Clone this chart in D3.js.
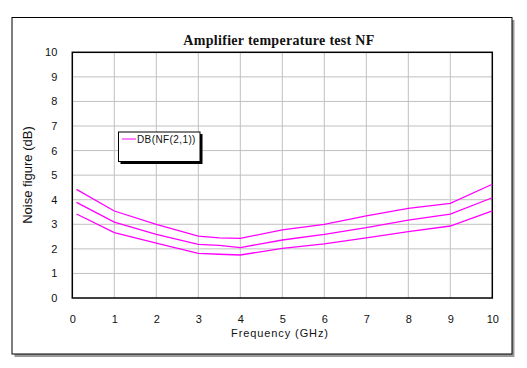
<!DOCTYPE html>
<html><head><meta charset="utf-8">
<script src="https://cdn.jsdelivr.net/npm/d3@7"></script>
<style>body{margin:0;background:#fff}svg{display:block}</style>
</head><body>
<script>
const freq = [0.1, 1, 2, 3, 3.5, 4, 5, 6, 7, 8, 9, 10];
const nfHigh = [4.42, 3.54, 3.0, 2.52, 2.45, 2.43, 2.77, 3.0, 3.34, 3.65, 3.85, 4.63];
const nfMid  = [3.89, 3.09, 2.59, 2.18, 2.14, 2.05, 2.36, 2.59, 2.86, 3.17, 3.41, 4.08];
const nfLow  = [3.42, 2.66, 2.23, 1.82, 1.78, 1.75, 2.02, 2.20, 2.45, 2.70, 2.93, 3.55];
const xTicks = [0,1,2,3,4,5,6,7,8,9,10];
const yTicks = [0,1,2,3,4,5,6,7,8,9,10];
const title = "Amplifier temperature test NF";
const xTitle = "Frequency (GHz)";
const yTitle = "Noise figure (dB)";
const legendLabel = "DB(NF(2,1))";

const W = 527, H = 368;
const svg = d3.select("body").append("svg").attr("width", W).attr("height", H);

// outer frame with shadow
svg.append("rect").attr("x", 14.5).attr("y", 20).attr("width", 500).attr("height", 337).attr("fill", "#999");
svg.append("rect").attr("x", 12).attr("y", 17.5).attr("width", 500).attr("height", 336.5)
  .attr("fill", "#fff").attr("stroke", "#000").attr("stroke-width", 1);

const L = 72.3, R = 492.3, T = 52.3, B = 298;
const x = d3.scaleLinear().domain([0, 10]).range([L, R]);
const y = d3.scaleLinear().domain([0, 10]).range([B, T]);

// grid
const g = svg.append("g");
g.selectAll(".gx").data(xTicks.slice(1, -1)).join("line")
  .attr("x1", d => x(d)).attr("x2", d => x(d)).attr("y1", T).attr("y2", B)
  .attr("stroke", "#c0c0c0").attr("stroke-width", 1);
g.selectAll(".gy").data(yTicks.slice(1, -1)).join("line")
  .attr("y1", d => y(d)).attr("y2", d => y(d)).attr("x1", L).attr("x2", R)
  .attr("stroke", "#c0c0c0").attr("stroke-width", 1);

// axes labels via d3 axes
const xAxis = svg.append("g").attr("transform", `translate(0,${B})`)
  .call(d3.axisBottom(x).tickValues(xTicks).tickSize(0).tickPadding(17).tickFormat(d3.format("d")));
xAxis.select(".domain").remove();
xAxis.selectAll("text").attr("font-family", "Liberation Sans, Arial, sans-serif").attr("font-size", 11).attr("fill", "#111");

const yAxis = svg.append("g").attr("transform", `translate(${L},0)`)
  .call(d3.axisLeft(y).tickValues(yTicks).tickSize(0).tickPadding(15).tickFormat(d3.format("d")));
yAxis.select(".domain").remove();
yAxis.selectAll("text").attr("font-family", "Liberation Sans, Arial, sans-serif").attr("font-size", 11).attr("fill", "#111");

// plot border
svg.append("rect").attr("x", L).attr("y", T).attr("width", R - L).attr("height", B - T)
  .attr("fill", "none").attr("stroke", "#000").attr("stroke-width", 1.5);

// lines
const line = d3.line().x(d => x(d[0])).y(d => y(d[1]));
[nfHigh, nfMid, nfLow].forEach(s => {
  svg.append("path").datum(freq.map((f, i) => [f, s[i]]))
    .attr("d", line).attr("fill", "none").attr("stroke", "#ff00ff").attr("stroke-width", 1.3);
});

// title
svg.append("text").attr("x", 279).attr("y", 45).attr("text-anchor", "middle")
  .attr("font-family", "Liberation Serif, Times New Roman, serif").attr("font-weight", "bold")
  .attr("font-size", 14).attr("letter-spacing", 0.3).attr("fill", "#111").text(title);

// axis titles
svg.append("text").attr("x", 280).attr("y", 337).attr("text-anchor", "middle")
  .attr("font-family", "Liberation Sans, Arial, sans-serif").attr("font-size", 11)
  .attr("letter-spacing", 0.9).attr("fill", "#111").text(xTitle);
svg.append("text").attr("transform", "translate(32,175) rotate(-90)").attr("text-anchor", "middle")
  .attr("font-family", "Liberation Sans, Arial, sans-serif").attr("font-size", 13)
  .attr("fill", "#111").text(yTitle);

// legend
svg.append("rect").attr("x", 120.5).attr("y", 134).attr("width", 82).attr("height", 30).attr("fill", "#000");
svg.append("rect").attr("x", 118.5).attr("y", 132).attr("width", 81.5).attr("height", 29.5)
  .attr("fill", "#fff").attr("stroke", "#000").attr("stroke-width", 1);
svg.append("line").attr("x1", 122).attr("x2", 136).attr("y1", 139).attr("y2", 139)
  .attr("stroke", "#ff00ff").attr("stroke-width", 1);
svg.append("text").attr("x", 137).attr("y", 143)
  .attr("font-family", "Liberation Sans, Arial, sans-serif").attr("font-size", 10)
  .attr("letter-spacing", 0.4).attr("fill", "#111").text(legendLabel);
</script>
</body></html>
